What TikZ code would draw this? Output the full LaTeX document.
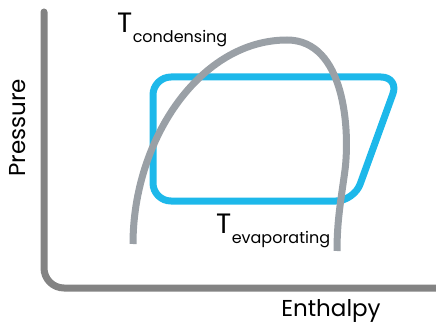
\documentclass[tikz,border=0pt]{standalone}
\usepackage{fontspec}
\setmainfont{Poppins}
\definecolor{axisgray}{HTML}{838383}
\definecolor{domegray}{HTML}{9AA0A6}
\definecolor{cycleblue}{HTML}{1DB8EA}
\newcommand\TempLabel[4]{%
    \node[anchor=base west,inner sep=0pt,font=\fontsize{28}{28}\selectfont] (#1) at (#2,#3) {T};
    \node[anchor=base west,inner sep=0pt,font=\fontsize{16}{16}\selectfont] (#1Sub) at ([yshift=-10pt]#1.base east) {#4};
}

\begin{document}
\begin{tikzpicture}[x=1pt,y=-1pt]
    \useasboundingbox (0,0) rectangle (436,323);
    \begin{scope}[color=axisgray,line width=7pt] % axes
        \draw[rounded corners=20,line cap=round] (44,12) |- (440,288);
    \end{scope}
    \node[rotate=90,font=\fontsize{23}{23}\selectfont,inner sep=0pt] (Pressure) at (18,128) {Pressure};
    \node[anchor=base,font=\fontsize{23}{23}\selectfont,inner sep=0pt] (Enthalpy) at (331,316) {Enthalpy};
    \begin{scope}[color=cycleblue,line width=7pt] % cycle
        \draw[rounded corners=18] (153,77) -- (399,77) -- (354,201) -- (153,201) -- cycle;
    \end{scope}
    \begin{scope}[color=domegray,line width=7pt] % dome
        \draw (133,244) .. controls (133,140) and (200,40) .. (287,40)
            .. controls (345,40) and (350,130) .. (345,170)
            .. controls (341,200) and (337,220) .. (337,251);
    \end{scope}
    \TempLabel{TCond}{117}{33}{condensing}
    \TempLabel{TEvap}{216}{233}{evaporating}
\end{tikzpicture}
\end{document}
